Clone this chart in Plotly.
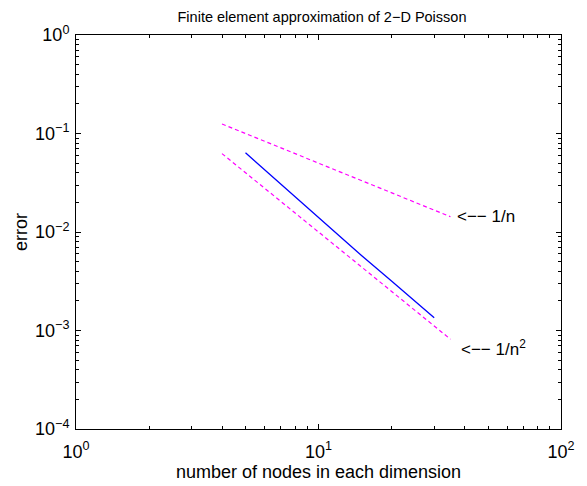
import plotly.graph_objects as go

# data
nodes = [5, 10, 15, 20, 25, 30]
error = [0.0637, 0.01386, 0.00581, 0.00318, 0.00200, 0.001345]

ref_n = [4, 35]
ref_first = [0.125, 0.0143]     # ~ 1/n
ref_second = [0.0625, 0.000816]  # ~ 1/n^2

label_first = "<−− 1/n"
label_second = "<−− 1/n<sup>2</sup>"

x_tickvals = [1, 10, 100]
x_ticktext = ["10<sup>0</sup>", "10<sup>1</sup>", "10<sup>2</sup>"]
y_tickvals = [1e-4, 1e-3, 1e-2, 1e-1, 1]
y_ticktext = ["10<sup>−4</sup>", "10<sup>−3</sup>", "10<sup>−2</sup>", "10<sup>−1</sup>", "10<sup>0</sup>"]

FONT = "Liberation Sans, Arial, Helvetica, sans-serif"

fig = go.Figure()
fig.add_trace(go.Scatter(x=ref_n, y=ref_first, mode="lines",
                         line=dict(color="#ff00ff", width=1.2, dash="4px,3px"), showlegend=False))
fig.add_trace(go.Scatter(x=ref_n, y=ref_second, mode="lines",
                         line=dict(color="#ff00ff", width=1.2, dash="4px,3px"), showlegend=False))
fig.add_trace(go.Scatter(x=nodes, y=error, mode="lines",
                         line=dict(color="#0000ff", width=1.3), showlegend=False))

fig.add_annotation(x=1.561, y=-1.839, xref="x", yref="y", text=label_first,
                   showarrow=False, xanchor="left", yanchor="middle",
                   font=dict(family=FONT, size=17, color="black"))
fig.add_annotation(x=1.581, y=-3.136, xref="x", yref="y", text=label_second,
                   showarrow=False, xanchor="left", yanchor="middle", yshift=-4,
                   font=dict(family=FONT, size=17, color="black"))

minor_x = [m * 10 ** e for e in range(0, 2) for m in range(2, 10)]
minor_y = [m * 10.0 ** e for e in range(-4, 0) for m in range(2, 10)]

axis_common = dict(type="log", showline=True, linecolor="black", linewidth=1,
                   mirror="ticks", ticks="inside", ticklen=5, tickcolor="black",
                   showgrid=False, zeroline=False,
                   tickfont=dict(family=FONT, size=18, color="black"))

fig.update_xaxes(range=[0, 2], tickvals=x_tickvals, ticktext=x_ticktext, ticklabelstandoff=6,
                 minor=dict(tickvals=minor_x, ticks="inside", ticklen=3, tickcolor="black", showgrid=False),
                 title=dict(text="number of nodes in each dimension", standoff=0,
                            font=dict(family=FONT, size=18, color="black")),
                 **axis_common)
fig.update_yaxes(range=[-4, 0], tickvals=y_tickvals, ticktext=y_ticktext, ticklabelstandoff=2,
                 minor=dict(tickvals=minor_y, ticks="inside", ticklen=3, tickcolor="black", showgrid=False),
                 title=dict(text="error", standoff=2,
                            font=dict(family=FONT, size=18, color="black")),
                 **axis_common)

# the page body adds an 8px margin, so the figure is 8px smaller and shifted
fig.update_layout(
    width=579, height=478,
    margin=dict(l=66, r=15, t=27, b=53),
    paper_bgcolor="white", plot_bgcolor="white",
    title=dict(text="Finite element approximation of 2−D Poisson", x=314 / 579, xanchor="center",
               y=1 - 4 / 478, yanchor="top", pad=dict(t=0, b=0),
               font=dict(family=FONT, size=14.5, color="black")),
    font=dict(family=FONT),
)

fig.write_html("out.html")
